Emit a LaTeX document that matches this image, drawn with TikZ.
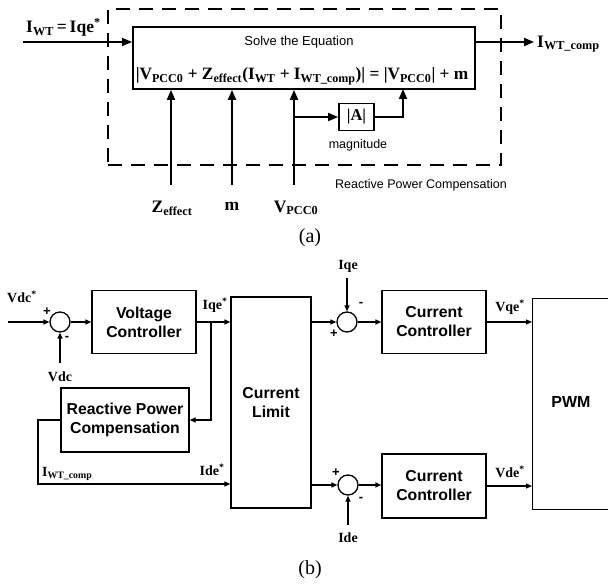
\documentclass[tikz,border=0pt]{standalone}
\usepackage{fontspec}
\setmainfont{Liberation Serif}
\setsansfont{Liberation Sans}
\usetikzlibrary{arrows.meta,calc}
\tikzset{
  abox/.style={draw, line width=1.8pt, inner sep=0pt},
  bbox/.style={draw, line width=1.3pt, inner sep=0pt, align=center,
               font=\sffamily\bfseries\fontsize{15.8}{19}\selectfont},
  dashbox/.style={draw, line width=1.8pt, dash pattern=on 14pt off 9pt, inner sep=0pt},
  arrA/.style={line width=1.8pt, -{Triangle[length=10pt,width=8pt]}},
  lineA/.style={line width=1.8pt},
  arrB/.style={line width=1.3pt, -{Triangle[length=6pt,width=5pt]}},
  lineB/.style={line width=1.3pt},
  sigA/.style={inner sep=0pt, font=\bfseries\fontsize{17.5}{20}\selectfont},
  sigB/.style={inner sep=0pt, font=\bfseries\fontsize{14}{16}\selectfont},
  sanstxt/.style={inner sep=0pt, font=\sffamily\fontsize{12.5}{15}\selectfont},
  sumc/.style={draw, circle, line width=1.3pt, minimum size=20pt, inner sep=0pt},
  signtxt/.style={inner sep=0pt, font=\sffamily\bfseries\fontsize{13}{15}\selectfont},
  caption/.style={inner sep=0pt, font=\fontsize{20}{24}\selectfont},
}
\begin{document}
\begin{tikzpicture}[x=1pt,y=-1pt]
\useasboundingbox (0,0) rectangle (608,585);
\clip (0,0) rectangle (608,585);

% ---------------- (a) ----------------
\node[dashbox, minimum width=393pt, minimum height=156pt] (rpcbox) at (304.5,87) {};
\node[abox, minimum width=342pt, minimum height=62pt] (solve) at (304,58) {};
\node[inner sep=0pt, font=\sffamily\fontsize{13}{15}\selectfont] (solvetxt) at (299,42) {Solve the Equation};
\node[inner sep=0pt, font=\bfseries\fontsize{17.3}{20}\selectfont] (eq) at (302,76)
  {|V\textsubscript{PCC0} + Z\textsubscript{effect}(I\textsubscript{WT} + I\textsubscript{WT\_comp})| = |V\textsubscript{PCC0}| + m};

\coordinate (iin) at (23,42);
\draw[arrA] (iin) -- (iin -| solve.west);
\node[sigA, anchor=base west] (iwtlbl) at (26,33) {I\textsubscript{WT}\,=\,Iqe\textsuperscript{*}};

\coordinate (iout) at (534,42);
\draw[arrA] (iout -| solve.east) -- (iout);
\node[sigA, anchor=west] (ioutlbl) at (537,44) {I\textsubscript{WT\_comp}};

\coordinate (zb) at (171,185);
\coordinate (mb) at (232,185);
\coordinate (vb) at (294,185);
\draw[arrA] (zb) -- (zb |- solve.south);
\draw[arrA] (mb) -- (mb |- solve.south);
\draw[arrA] (vb) -- (vb |- solve.south);
\node[sigA] (zlbl) at (172,208) {Z\textsubscript{effect}};
\node[sigA] (mlbl) at (232,206) {m};
\node[sigA] (vlbl) at (296,208) {V\textsubscript{PCC0}};

\node[abox, minimum width=35pt, minimum height=27pt, font=\bfseries\fontsize{16.5}{18}\selectfont] (mag) at (356.5,117) {|A|};
\coordinate (vbr) at (294,117);
\coordinate (vtop) at (403,89);
\draw[arrA] (vbr) -- (mag.west);
\draw[arrA] (mag.east) -| (vtop);
\node[sanstxt] (magtxt) at (358,145) {magnitude};
\node[sanstxt] (rpctxt) at (421,185) {Reactive Power Compensation};
\node[caption] (capa) at (310,238) {(a)};

% ---------------- (b) ----------------
\node[sumc] (s1) at (60,322) {};
\coordinate (vin) at (8,322);
\draw[arrB] (vin) -- (s1.west);
\node[sigB] (vdcs) at (22,297) {Vdc\textsuperscript{*}};
\node[signtxt] (p1) at (47,312) {+};
\node[signtxt] (m1) at (67,338) {-};
\coordinate (vdcin) at (60,363);
\draw[arrB] (vdcin) -- (s1.south);
\node[sigB] (vdclbl) at (60,377) {Vdc};

\node[bbox, minimum width=104pt, minimum height=63pt] (vc) at (144,322) {Voltage\\Controller};
\draw[arrB] (s1.east) -- (vc.west);

\node[bbox, minimum width=80pt, minimum height=211pt] (cl) at (271,402.5) {Current\\Limit};
\draw[arrB] (vc.east) -- (vc.east -| cl.west);
\node[sigB] (iqes) at (215,305) {Iqe\textsuperscript{*}};

\node[bbox, minimum width=128pt, minimum height=64pt] (rpc) at (125,420) {Reactive Power\\Compensation};
\coordinate (br1) at (211,322);
\draw[arrB] (br1) |- (rpc.east);
\coordinate (rl) at (38,420);
\coordinate (rd) at (38,484);
\draw[arrB] (rpc.west) -- (rl) -- (rd) -- (rd -| cl.west);
\node[sigB, anchor=base west] (iwtc) at (42,476) {I\textsubscript{WT\_comp}};
\node[sigB] (ides) at (212,470) {Ide\textsuperscript{*}};

\node[sumc] (s2) at (347,322) {};
\draw[arrB] (s2 -| cl.east) -- (s2.west);
\node[signtxt] (p2) at (334,334) {+};
\node[signtxt] (m2) at (361,304) {-};
\coordinate (iqein) at (347,278);
\draw[arrB] (iqein) -- (s2.north);
\node[sigB] (iqelbl) at (348,266) {Iqe};

\node[bbox, minimum width=104pt, minimum height=63pt] (cc1) at (434,322) {Current\\Controller};
\draw[arrB] (s2.east) -- (cc1.west);

\node[draw, line width=1.3pt, minimum width=110pt, minimum height=211pt, anchor=north west, inner sep=0pt] (pwm) at (532,298) {};
\node[inner sep=0pt, font=\sffamily\bfseries\fontsize{16}{18}\selectfont] (pwmtxt) at (571,402) {PWM};
\draw[arrB] (cc1.east) -- (cc1.east -| pwm.west);
\node[sigB] (vqes) at (510,307) {Vqe\textsuperscript{*}};

\node[sumc] (s3) at (348,485) {};
\draw[arrB] (s3 -| cl.east) -- (s3.west);
\node[signtxt] (p3) at (336,473) {+};
\node[signtxt] (m3) at (361,499) {-};
\coordinate (idein) at (348,525);
\draw[arrB] (idein) -- (s3.south);
\node[sigB] (idelbl) at (348,538) {Ide};

\node[bbox, minimum width=104pt, minimum height=64pt] (cc2) at (434,486) {Current\\Controller};
\draw[arrB] (s3.east) -- (s3.east -| cc2.west);
\draw[arrB] (cc2.east) -- (cc2.east -| pwm.west);
\node[sigB] (vdes) at (510,472) {Vde\textsuperscript{*}};

\node[caption] (capb) at (310,570) {(b)};
\end{tikzpicture}
\end{document}
